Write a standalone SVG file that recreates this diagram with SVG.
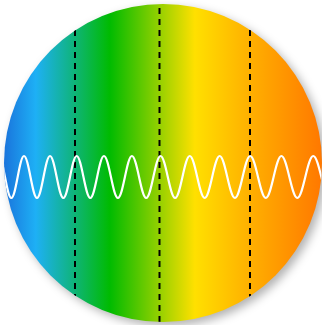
<svg xmlns="http://www.w3.org/2000/svg" width="322" height="325" viewBox="0 0 322 325">
  <defs>
    <linearGradient id="spectrum" gradientUnits="userSpaceOnUse" x1="4" y1="0" x2="322" y2="0">
      <stop offset="0" stop-color="#1a74dc"/>
      <stop offset="0.1" stop-color="#1eb0f5"/>
      <stop offset="0.22" stop-color="#0fb47a"/>
      <stop offset="0.333" stop-color="#00bb00"/>
      <stop offset="0.6" stop-color="#ffe000"/>
      <stop offset="0.742" stop-color="#ffb800"/>
      <stop offset="1" stop-color="#ff7800"/>
    </linearGradient>
    <filter id="shadow" x="-10%" y="-10%" width="130%" height="130%">
      <feGaussianBlur stdDeviation="5"/>
    </filter>
    <clipPath id="disc">
      <circle cx="163" cy="163" r="159"/>
    </clipPath>
    <style>
      .dash { stroke: #000; stroke-width: 2; stroke-dasharray: 6 5; fill: none; }
      .wave { stroke: #fff; stroke-width: 2.2; fill: none; stroke-linecap: round; }
    </style>
  </defs>
  <rect width="322" height="325" fill="#fff"/>
  <g id="disc-shadow">
    <circle cx="167" cy="167" r="159" fill="#000" fill-opacity="0.3" filter="url(#shadow)"/>
  </g>
  <g id="spectrum-disc">
    <circle cx="163" cy="163" r="159" fill="url(#spectrum)"/>
  </g>
  <g id="markers" clip-path="url(#disc)">
    <line class="dash" x1="75" y1="4" x2="75" y2="322" stroke-dashoffset="-4"/>
    <line class="dash" x1="159.5" y1="8" x2="159.5" y2="322"/>
    <line class="dash" x1="250" y1="4" x2="250" y2="322" stroke-dashoffset="-4"/>
  </g>
  <g id="wave" clip-path="url(#disc)">
    <path class="wave" d="M -1.35 156 C 3.26 156 6.72 198 11.33 198 C 15.93 198 19.4 156 24 156 C 28.72 156 32.28 198 37 198 C 41.72 198 45.28 156 50 156 C 54.84 156 58.49 198 63.33 198 C 68.17 198 71.81 156 76.65 156 C 81.61 156 85.34 198 90.3 198 C 95.26 198 98.99 156 103.95 156 C 109.03 156 112.85 198 117.93 198 C 123.01 198 126.82 156 131.9 156 C 137.1 156 141 198 146.2 198 C 151.4 198 155.3 156 160.5 156 C 165.82 156 169.81 198 175.13 198 C 180.44 198 184.44 156 189.75 156 C 195.18 156 199.27 198 204.7 198 C 210.13 198 214.22 156 219.65 156 C 225.2 156 229.38 198 234.93 198 C 240.48 198 244.65 156 250.2 156 C 255.87 156 260.13 198 265.8 198 C 271.47 198 275.73 156 281.4 156 C 287.19 156 291.54 198 297.33 198 C 303.12 198 307.46 156 313.25 156 C 319.16 156 323.59 198 329.5 198"/>
  </g>
</svg>
